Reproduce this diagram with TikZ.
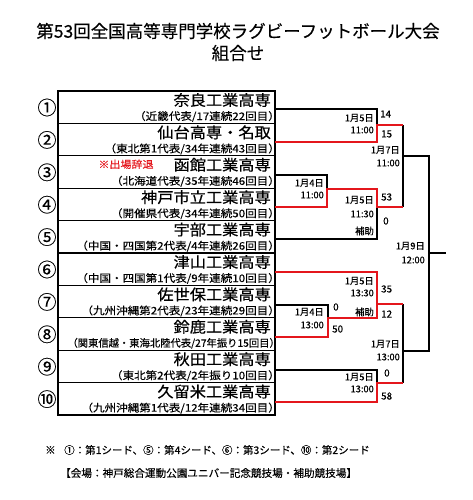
\documentclass[tikz,border=0pt]{standalone}
\usepackage{fontspec}
\setmainfont{Noto Sans CJK JP}[FakeBold=0.2]
\newfontfamily\jpwide[FakeStretch=1.08,FakeBold=0.6]{Noto Sans CJK JP}
\newfontfamily\jpsub[FakeStretch=1.1,FakeBold=0.3]{Noto Sans CJK JP}
\definecolor{rred}{RGB}{228,22,28}
\begin{document}
\begin{tikzpicture}[x=1pt,y=-1pt,
  schoolname/.style={anchor=east,inner sep=0pt,font=\jpwide\fontsize{15}{15}\selectfont},
  subtext/.style={anchor=east,inner sep=0pt,font=\jpsub\fontsize{10.5}{10.5}\selectfont},
  seedno/.style={inner sep=0pt,font=\fontsize{19}{19}\selectfont},
  datelbl/.style={anchor=east,inner sep=0pt,font=\fontsize{9.3}{9.3}\selectfont},
  scorelbl/.style={anchor=west,inner sep=0pt,font=\fontsize{9.8}{9.8}\selectfont},
  blk/.style={line width=1.8pt,black},
  redl/.style={line width=2.9pt,rred},
  tbl/.style={line width=1.2pt,black}]
\useasboundingbox (0,0) rectangle (473,500);
% title
\node[inner sep=0pt,font=\fontsize{17.5}{17.5}\selectfont] (title1) at (238,31) {第53回全国高等専門学校ラグビーフットボール大会};
\node[inner sep=0pt,font=\fontsize{17.5}{17.5}\selectfont] (title2) at (238,53) {組合せ};
% table
\draw[tbl] (58,91) rectangle (275,415);
\foreach \i in {1,...,9} {\draw[tbl] (58,{91+32.4*\i}) -- (275,{91+32.4*\i});}
% seed numbers
\foreach \s [count=\i] in {①,②,③,④,⑤,⑥,⑦,⑧,⑨,⑩} {
  \node[seedno] (n\i) at (47,{91+32.4*(\i-1)+16.5}) {\s};}
% school names
\node[schoolname] (s1) at (271,{91+9}) {奈良工業高専};
\node[subtext] (t1) at (280,{91+25.5}) {（近畿代表/17連続22回目）};
\node[schoolname] (s2) at (271,{123.4+9}) {仙台高専・名取};
\node[subtext] (t2) at (280,{123.4+25.5}) {（東北第1代表/34年連続43回目）};
\node[schoolname] (s3) at (271,{155.8+9}) {函館工業高専};
\node[inner sep=0pt,font=\jpsub\fontsize{10}{10}\selectfont,text=rred] (w3) at (126,{155.8+8.5}) {※出場辞退};
\node[subtext] (t3) at (280,{155.8+25.5}) {（北海道代表/35年連続46回目）};
\node[schoolname] (s4) at (271,{188.2+9}) {神戸市立工業高専};
\node[subtext] (t4) at (280,{188.2+25.5}) {（開催県代表/34年連続50回目）};
\node[schoolname] (s5) at (271,{220.6+9}) {宇部工業高専};
\node[subtext] (t5) at (280,{220.6+25.5}) {（中国・四国第2代表/4年連続26回目）};
\node[schoolname] (s6) at (271,{253+9}) {津山工業高専};
\node[subtext] (t6) at (280,{253+25.5}) {（中国・四国第1代表/9年連続10回目）};
\node[schoolname] (s7) at (271,{285.4+9}) {佐世保工業高専};
\node[subtext] (t7) at (280,{285.4+25.5}) {（九州沖縄第2代表/23年連続29回目）};
\node[schoolname] (s8) at (271,{317.8+9}) {鈴鹿工業高専};
\node[subtext,font=\fontsize{10.3}{10.3}\selectfont] (t8) at (280,{317.8+25.5}) {（関東信越・東海北陸代表/27年振り15回目）};
\node[schoolname] (s9) at (271,{350.2+9}) {秋田工業高専};
\node[subtext] (t9) at (280,{350.2+25.5}) {（東北第2代表/2年振り10回目）};
\node[schoolname] (s10) at (271,{382.6+9}) {久留米工業高専};
\node[subtext] (t10) at (280,{382.6+25.5}) {（九州沖縄第1代表/12年連続34回目）};
% bracket coordinates
\coordinate (e1) at (275,109);
\coordinate (e2) at (275,142);
\coordinate (e3) at (275,175);
\coordinate (e4) at (275,207);
\coordinate (e5) at (275,239);
\coordinate (e6) at (275,272);
\coordinate (e7) at (275,305);
\coordinate (e8) at (275,337);
\coordinate (e9) at (275,370);
\coordinate (e10) at (275,402);
\coordinate (mA) at (377,125);
\coordinate (mB) at (327,189);
\coordinate (mC) at (377,207);
\coordinate (sf1) at (403,156);
\coordinate (mD) at (328,318);
\coordinate (mE) at (377,304);
\coordinate (mF) at (377,383);
\coordinate (sf2) at (403,351);
\coordinate (fin) at (429,253);
\coordinate (champ) at (446,253);
% black lines
\draw[blk] (e1) -| (mA);
\draw[blk] (e3) -| (mB);
\draw[blk] (e5) -| (mC);
\draw[blk] (e7) -| (mD);
\draw[blk] (e9) -| (mF);
\draw[blk] (sf1 |- mA) -- (sf1 |- mC);
\draw[blk] (sf2 |- mE) -- (sf2 |- mF);
\draw[blk] (sf1) -| (fin);
\draw[blk] (sf2) -| (fin);
\draw[blk] (fin) -- (champ);
% red lines
\draw[redl] (e2) -| (mA) -- (sf1 |- mA);
\draw[redl] (e4) -| (mB) -| (mC) -- (sf1 |- mC);
\draw[redl] (e6) -| (mE) -- (sf2 |- mE);
\draw[redl] (e8) -| (mD) -| (mE);
\draw[redl] (e10) -| (mF) -- (sf2 |- mF);
% match labels
\node[datelbl] (dA1) at (374,118) {1月5日};
\node[datelbl] (dA2) at (374,130) {11:00};
\node[scorelbl] (pA1) at (380,114) {14};
\node[scorelbl] (pA2) at (381,134) {15};
\node[datelbl] (dS1) at (400,150) {1月7日};
\node[datelbl] (dS2) at (400,163) {11:00};
\node[datelbl] (dB1) at (324,183) {1月4日};
\node[datelbl] (dB2) at (324,195) {11:00};
\node[datelbl] (dC1) at (374,200) {1月5日};
\node[datelbl] (dC2) at (374,214) {11:30};
\node[datelbl] (dC3) at (374,231) {補助};
\node[scorelbl] (pC1) at (381,197) {53};
\node[scorelbl] (pC2) at (383,221) {0};
\node[datelbl] (dF1) at (425,246) {1月9日};
\node[datelbl] (dF2) at (425,260) {12:00};
\node[datelbl] (dE1) at (374,281) {1月5日};
\node[datelbl] (dE2) at (374,293) {13:30};
\node[datelbl] (dE3) at (374,312) {補助};
\node[scorelbl] (pE1) at (381,289) {35};
\node[scorelbl] (pE2) at (381,314) {12};
\node[datelbl] (dD1) at (324,312) {1月4日};
\node[datelbl] (dD2) at (324,325) {13:00};
\node[scorelbl] (pD1) at (333,307) {0};
\node[scorelbl] (pD2) at (332,329) {50};
\node[datelbl] (dT1) at (400,344) {1月7日};
\node[datelbl] (dT2) at (400,357) {13:00};
\node[datelbl] (dG1) at (374,377) {1月5日};
\node[datelbl] (dG2) at (374,389) {13:00};
\node[scorelbl] (pG1) at (384,373) {0};
\node[scorelbl] (pG2) at (381,396) {58};
% footer
\node[anchor=west,inner sep=0pt,font=\fontsize{10.5}{10.5}\selectfont] (f0) at (45,450) {※};
\node[anchor=west,inner sep=0pt,font=\fontsize{10.5}{10.5}\selectfont] (f1) at (64,450) {①：第1シード、⑤：第4シード、⑥：第3シード、⑩：第2シード};
\node[anchor=west,inner sep=0pt,font=\fontsize{10.6}{10.6}\selectfont] (f2) at (60,473) {【会場：神戸総合運動公園ユニバー記念競技場・補助競技場】};
\end{tikzpicture}
\end{document}
